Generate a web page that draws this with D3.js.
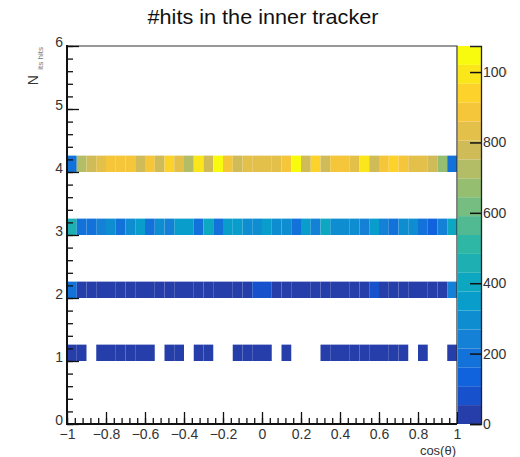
<!DOCTYPE html>
<html>
<head>
<meta charset="utf-8">
<script src="https://cdn.jsdelivr.net/npm/d3@7"></script>
<style>
  body { margin: 0; background: #fff; }
  text { font-family: "Liberation Sans", Arial, sans-serif; }
</style>
</head>
<body>
<div id="chart"></div>
<script>
// lower edges of the filled N bins
var rowN = [1, 2, 3, 4];
// counts per cos(theta) bin, 40 bins from -1 to 1 (0 = empty)
var row1Counts = [25, 28, 0, 22, 30, 27, 31, 24, 26, 0, 23, 29, 0, 27, 25, 0, 0, 24, 28, 30,
                  26, 0, 22, 0, 0, 0, 25, 29, 31, 27, 24, 28, 30, 26, 23, 0, 25, 0, 0, 27];
var row2Counts = [210, 40, 38, 42, 36, 44, 40, 39, 41, 37, 43, 40, 38, 42, 39, 41, 40, 37, 44, 90,
                  90, 42, 40, 39, 41, 38, 43, 40, 37, 42, 40, 100, 41, 39, 43, 38, 40, 42, 39, 230];
var row3Counts = [450, 190, 200, 240, 300, 190, 280, 340, 200, 300, 220, 340, 340, 190, 380, 170, 330, 350, 290, 310,
                  370, 310, 290, 190, 360, 220, 400, 280, 290, 280, 240, 350, 240, 200, 310, 280, 200, 160, 260, 400];
var row4Counts = [190, 720, 780, 820, 860, 880, 900, 790, 900, 800, 960, 830, 720, 980, 800, 1050, 870, 800, 830, 820,
                  830, 840, 880, 1030, 800, 960, 800, 880, 900, 840, 980, 790, 880, 960, 880, 850, 830, 760, 670, 190];
var xTicks = [-1, -0.8, -0.6, -0.4, -0.2, 0, 0.2, 0.4, 0.6, 0.8, 1];
var yTicks = [0, 1, 2, 3, 4, 5, 6];
var zTicks = [0, 200, 400, 600, 800, 1000];
var zMax = 1074;
var nLevels = 20;

// ROOT kBird palette
var birdStops = [0.0, 0.125, 0.25, 0.375, 0.5, 0.625, 0.75, 0.875, 1.0];
var birdR = [0.2082, 0.0592, 0.0780, 0.0232, 0.1802, 0.5301, 0.8186, 0.9956, 0.9764];
var birdG = [0.1664, 0.3599, 0.5041, 0.6419, 0.7178, 0.7492, 0.7328, 0.7862, 0.9832];
var birdB = [0.5293, 0.8684, 0.8385, 0.7914, 0.6425, 0.4662, 0.3499, 0.1968, 0.0539];

var W = 520, H = 457;
var plot = {left: 67, right: 457, top: 46, bottom: 424};
var binW = 0.05, binH = 0.26;

var x = d3.scaleLinear().domain([-1, 1]).range([plot.left, plot.right]);
var y = d3.scaleLinear().domain([0, 6]).range([plot.bottom, plot.top]);
var z = d3.scaleLinear().domain([0, zMax]).range([plot.bottom, plot.top]);

var bird = d3.scaleLinear().domain(birdStops)
  .range(birdStops.map(function(s, i) { return d3.rgb(birdR[i] * 255, birdG[i] * 255, birdB[i] * 255); }))
  .interpolate(d3.interpolateRgb);

function levelColor(lv) {
  return bird(Math.min(1, (lv + 0.99) / nLevels));
}
function color(v) {
  var lv = Math.min(nLevels - 1, Math.floor(v / zMax * nLevels));
  return levelColor(lv);
}

var svg = d3.select("#chart").append("svg")
  .attr("width", W).attr("height", H);

// title
svg.append("text")
  .attr("x", 263).attr("y", 24)
  .attr("text-anchor", "middle")
  .attr("font-size", 21)
  .attr("textLength", 231)
  .attr("lengthAdjust", "spacingAndGlyphs")
  .attr("fill", "#111")
  .text("#hits in the inner tracker");

// cells
var cells = [];
[row1Counts, row2Counts, row3Counts, row4Counts].forEach(function(row, r) {
  row.forEach(function(v, k) {
    if (v > 0) cells.push({x0: -1 + k * binW, n: rowN[r], v: v});
  });
});

svg.append("g").selectAll("rect")
  .data(cells)
  .enter().append("rect")
  .attr("x", function(d) { return x(d.x0); })
  .attr("y", function(d) { return y(d.n + binH); })
  .attr("width", function(d) { return x(d.x0 + binW) - x(d.x0); })
  .attr("height", function(d) { return y(d.n) - y(d.n + binH); })
  .attr("fill", function(d) { return color(d.v); });

// frame (top/right)
svg.append("path")
  .attr("d", "M" + plot.left + "," + plot.top + "H" + plot.right + "V" + plot.bottom)
  .attr("fill", "none").attr("stroke", "#333").attr("stroke-width", 1.2);

// x axis (ticks inward)
var xMin = svg.append("g").attr("transform", "translate(0," + plot.bottom + ")")
  .call(d3.axisBottom(x).tickValues(d3.range(-1, 1.001, 0.04)).tickSize(-6).tickFormat(""));
xMin.select(".domain").remove();
xMin.selectAll(".tick line").attr("stroke", "#111").attr("stroke-width", 1.3);
var xMaj = svg.append("g").attr("transform", "translate(0," + plot.bottom + ")")
  .call(d3.axisBottom(x).tickValues(xTicks).tickSize(-12).tickPadding(5)
    .tickFormat(function(d) { return d === 0 ? "0" : d3.format("")(d).replace("-", "\u2212"); }));
xMaj.select(".domain").remove();
xMaj.selectAll(".tick line").attr("stroke", "#111").attr("stroke-width", 1.3);
xMaj.selectAll(".tick text").attr("font-size", 14).attr("fill", "#333");
svg.append("line")
  .attr("x1", plot.left - 1).attr("x2", plot.right)
  .attr("y1", plot.bottom).attr("y2", plot.bottom)
  .attr("stroke", "#111").attr("stroke-width", 2);

// y axis (ticks inward)
var yMin = svg.append("g").attr("transform", "translate(" + plot.left + ",0)")
  .call(d3.axisLeft(y).tickValues(d3.range(0, 6.001, 0.2)).tickSize(-6).tickFormat(""));
yMin.select(".domain").remove();
yMin.selectAll(".tick line").attr("stroke", "#111").attr("stroke-width", 1.3);
var yMaj = svg.append("g").attr("transform", "translate(" + plot.left + ",0)")
  .call(d3.axisLeft(y).tickValues(yTicks).tickSize(-12).tickPadding(4).tickFormat(d3.format("d")));
yMaj.select(".domain").remove();
yMaj.selectAll(".tick line").attr("stroke", "#111").attr("stroke-width", 1.3);
yMaj.selectAll(".tick text").attr("font-size", 14).attr("fill", "#333").attr("dy", "0.05em");
svg.append("line")
  .attr("x1", plot.left).attr("x2", plot.left)
  .attr("y1", plot.top - 1).attr("y2", plot.bottom + 1)
  .attr("stroke", "#111").attr("stroke-width", 2);

// axis titles
svg.append("text")
  .attr("x", 456).attr("y", 455)
  .attr("text-anchor", "end")
  .attr("font-size", 13).attr("fill", "#333")
  .text("cos(\u03b8)");

var yT = svg.append("g").attr("transform", "translate(38,46) rotate(-90)");
yT.append("text").attr("x", -1).attr("y", 5).attr("text-anchor", "end")
  .attr("font-size", 8).attr("fill", "#777").text("its hits");
yT.append("text").attr("x", -29).attr("y", 0).attr("text-anchor", "end")
  .attr("font-size", 14).attr("fill", "#333").text("N");

// colour bar
var bar = {left: 458, right: 481};
var levels = d3.range(nLevels);
svg.append("g").selectAll("rect")
  .data(levels)
  .enter().append("rect")
  .attr("x", bar.left)
  .attr("y", function(lv) { return z((lv + 1) * zMax / nLevels); })
  .attr("width", bar.right - bar.left)
  .attr("height", function(lv) { return z(lv * zMax / nLevels) - z((lv + 1) * zMax / nLevels); })
  .attr("fill", function(lv) { return levelColor(lv); });

svg.append("defs").append("clipPath").attr("id", "zclip")
  .append("rect").attr("x", -40).attr("y", 0).attr("width", 507 - bar.right + 40).attr("height", H);

var zAxis = svg.append("g")
  .attr("transform", "translate(" + bar.right + ",0)")
  .attr("clip-path", "url(#zclip)")
  .call(d3.axisRight(z).tickValues(zTicks).tickSize(-11).tickPadding(3).tickFormat(d3.format("d")));
zAxis.select(".domain").attr("stroke", "#222").attr("stroke-width", 1.3);
zAxis.selectAll(".tick line").attr("stroke", "#111").attr("stroke-width", 1.5);
zAxis.selectAll(".tick text").attr("font-size", 14).attr("fill", "#333").attr("x", 2);
</script>
</body>
</html>
